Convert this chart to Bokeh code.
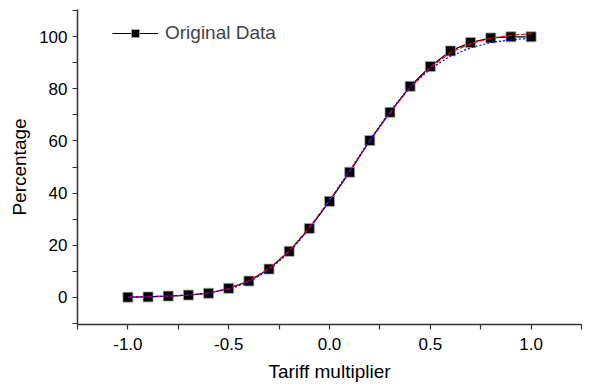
from bokeh.plotting import figure
from bokeh.models import FixedTicker, Legend, LegendItem, CustomJSTickFormatter
from bokeh.embed import file_html
from bokeh.resources import INLINE

# Data
x_vals = [-1.0, -0.9, -0.8, -0.7, -0.6, -0.5, -0.4, -0.3, -0.2, -0.1, 0.0,
          0.1, 0.2, 0.3, 0.4, 0.5, 0.6, 0.7, 0.8, 0.9, 1.0]
original = [0.0, 0.1, 0.4, 0.8, 1.5, 3.4, 6.2, 10.8, 17.6, 26.4, 36.8,
            48.0, 60.2, 71.0, 81.0, 88.6, 94.6, 97.8, 99.6, 100.0, 100.0]
fit_red = [0.1, 0.2, 0.4, 0.8, 1.6, 3.3, 6.3, 11.0, 17.8, 26.8, 37.2,
           48.4, 60.0, 70.8, 80.6, 88.2, 94.0, 97.4, 99.5, 100.6, 101.2]
fit_blue = [0.1, 0.2, 0.4, 0.8, 1.6, 3.0, 5.8, 10.4, 17.2, 26.2, 37.0,
            48.6, 60.4, 71.4, 80.8, 87.6, 92.6, 95.8, 97.8, 98.9, 99.5]

x_major = [-1.0, -0.5, 0.0, 0.5, 1.0]
x_minor = [-1.25, -0.75, -0.25, 0.25, 0.75, 1.25]
y_major = [0, 20, 40, 60, 80, 100]
y_minor = [-10, 10, 30, 50, 70, 90, 110]
x_title = "Tariff multiplier"
y_title = "Percentage"

FONT = "Liberation Sans"

p = figure(width=598, height=384, x_range=(-1.25, 1.25), y_range=(-10.5, 110.5),
           output_backend="svg", toolbar_location=None,
           min_border_left=77, min_border_right=17, min_border_top=9, min_border_bottom=59)
p.outline_line_color = None
p.grid.visible = False

# black connecting line
l_black = p.line(x_vals, original, line_color="black", line_width=1.2)
sq = p.scatter(x_vals, original, marker="square", size=10, fill_color="black",
               line_color="#aaaaaa", line_width=0.8)
p.line(x_vals, fit_red, line_color="red", line_width=1.2, line_dash="5 2")
p.line(x_vals, fit_blue, line_color="blue", line_width=1.2, line_dash="2 2")

# axes styling
for ax in (p.xaxis[0], p.yaxis[0]):
    ax.axis_line_color = "#333333"
    ax.axis_line_width = 1.5
    ax.major_tick_line_color = "#333333"
    ax.minor_tick_line_color = "#333333"
    ax.major_tick_line_width = 1.2
    ax.minor_tick_line_width = 1.2
    ax.major_tick_out = 5
    ax.major_tick_in = 0
    ax.minor_tick_out = 5
    ax.minor_tick_in = 0
    ax.major_label_text_font = FONT
    ax.major_label_text_font_size = "17px"
    ax.major_label_text_color = "black"
    ax.axis_label_text_font = FONT
    ax.axis_label_text_font_size = "19px"
    ax.axis_label_text_font_style = "normal"
    ax.axis_label_text_color = "black"

p.xaxis.ticker = FixedTicker(ticks=x_major, minor_ticks=x_minor)
p.yaxis.ticker = FixedTicker(ticks=y_major, minor_ticks=y_minor)
p.xaxis.formatter = CustomJSTickFormatter(code="return tick.toFixed(1);")
p.xaxis.axis_label = x_title
p.yaxis.axis_label = y_title
p.xaxis.major_label_standoff = 8
p.yaxis.major_label_standoff = 5
p.xaxis.axis_label_standoff = 8
p.yaxis.axis_label_standoff = 6

legend = Legend(items=[LegendItem(label="Original Data", renderers=[l_black, sq])],
                location=(35, 280), padding=0, margin=0, spacing=0,
                glyph_width=46, glyph_height=20, label_standoff=7,
                border_line_alpha=0, background_fill_alpha=0,
                label_text_font=FONT, label_text_font_size="19px")
p.add_layout(legend)

open("out.html", "w").write(file_html(p, INLINE))
